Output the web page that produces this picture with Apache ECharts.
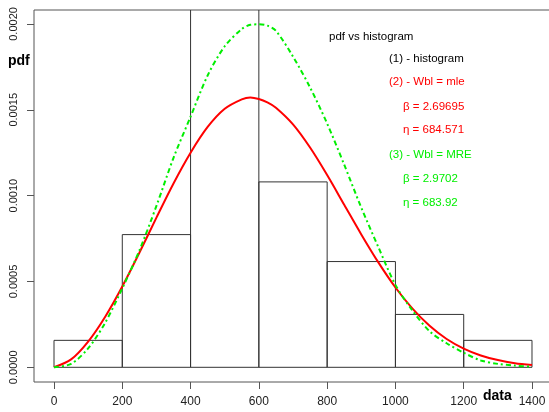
<!DOCTYPE html>
<html>
<head>
<meta charset="utf-8">
<script src="https://cdn.jsdelivr.net/npm/echarts@6/dist/echarts.min.js"></script>
<style>
html,body{margin:0;padding:0;background:#fff;}
#chart{width:549px;height:412px;}
</style>
</head>
<body>
<div id="chart"></div>
<script>
// ---- data ----
var binEdges = [0, 200, 400, 600, 800, 1000, 1200, 1400];
var binDensity = [0.000157, 0.000773, 0.0025, 0.00108, 0.000616, 0.000308, 0.000157];

var curveX = [0,50,100,150,200,250,300,350,400,450,500,550,575,600,625,650,700,750,800,850,900,950,1000,1050,1100,1150,1200,1250,1300,1350,1400];
var pdfMle = [0,0.000046,0.00015,0.000295,0.000471,0.000667,0.000872,0.001071,0.00125,0.0014,0.001506,0.001561,0.001572,0.001563,0.001543,0.001512,0.001415,0.00128,0.00112,0.000947,0.000774,0.000611,0.000465,0.000342,0.000242,0.000165,0.000109,0.000069,0.000042,0.000024,0.000014];
var pdfMre = [0,0.00002,0.00011,0.00026,0.00046,0.00068,0.00094,0.00122,0.00146,0.0017,0.00187,0.00197,0.001995,0.001998,0.00199,0.00196,0.00181,0.00163,0.00142,0.00118,0.00093,0.0007,0.00048,0.00033,0.00021,0.00014,0.000085,0.00004,0.00002,0.00001,0.000003];

var xTicks = [0, 200, 400, 600, 800, 1000, 1200, 1400];
var yTicks = [0, 0.0005, 0.001, 0.0015, 0.002];

var legendTitle = 'pdf vs histogram';
var legendLines = [
  {text: '(1) - histogram', color: '#000000'},
  {text: '(2) - Wbl = mle', color: '#ff0000'},
  {text: '\u03b2 = 2.69695', color: '#ff0000'},
  {text: '\u03b7 = 684.571', color: '#ff0000'},
  {text: '(3) - Wbl = MRE', color: '#00ee00'},
  {text: '\u03b2 = 2.9702', color: '#00ee00'},
  {text: '\u03b7 = 683.92', color: '#00ee00'}
];
var xLabel = 'data';
var yLabel = 'pdf';

// ---- build ----
var histData = [];
for (var i = 0; i < binDensity.length; i++) histData.push([binEdges[i], binEdges[i+1], binDensity[i]]);
function pairs(xs, ys){ var o=[]; for (var i=0;i<xs.length;i++) o.push([xs[i], ys[i]]); return o; }

var FONT = '"Liberation Sans", Arial, sans-serif';
var legY = [59.5, 82.5, 107.5, 131, 155.5, 180, 203.5];
var graphics = [
  {type:'text', left: 329, top: 30.5, style:{text: legendTitle, fill:'#000', font: '11.5px ' + FONT}},
  {type:'text', left: 8, top: 54, style:{text: yLabel, fill:'#000', font: 'bold 14px ' + FONT}},
  {type:'text', left: 483, top: 389, style:{text: xLabel, fill:'#000', font: 'bold 14px ' + FONT}}
];
legendLines.forEach(function(l, i){
  var indent = (i === 0 || i === 1 || i === 4) ? 389 : 403;
  graphics.push({type:'text', left: indent, top: legY[i] - 7, style:{text: l.text, fill: l.color, font: '11.5px ' + FONT}});
});

var chart = echarts.init(document.getElementById('chart'), null, {renderer:'canvas'});
chart.setOption({
  animation: false,
  backgroundColor: '#fff',
  grid: {left: 34, top: 10, width: 518, height: 372, outerBoundsMode: 'none', containLabel: false,
    show: true, borderColor: '#555', borderWidth: 1, backgroundColor: 'transparent'},
  xAxis: {
    type: 'value', min: -58.6, max: 1458.6,
    axisLine: {show: false, onZero: false},
    splitLine: {show: false},
    axisTick: {show: true, length: 7, customValues: xTicks, lineStyle: {color: '#555'}},
    axisLabel: {customValues: xTicks, margin: 14, color: '#222', fontSize: 12, fontFamily: FONT,
      formatter: function(v){ return String(Math.round(v)); }}
  },
  yAxis: {
    type: 'value', min: -0.0000856, max: 0.0020813,
    axisLine: {show: false, onZero: false},
    splitLine: {show: false},
    axisTick: {show: true, length: 7, customValues: yTicks, lineStyle: {color: '#555'}},
    axisLabel: {customValues: yTicks, rotate: 90, margin: 15, color: '#222', fontSize: 11, fontFamily: FONT,
      formatter: function(v){ return v.toFixed(4); }}
  },
  series: [
    {
      type: 'custom', clip: true, data: histData,
      renderItem: function(params, api){
        var p0 = api.coord([api.value(0), 0]);
        var p1 = api.coord([api.value(1), api.value(2)]);
        return {type:'rect', shape:{x: p0[0], y: p1[1], width: p1[0]-p0[0], height: p0[1]-p1[1]},
          style:{fill: 'none', stroke: '#333', lineWidth: 1}};
      },
      encode: {x: [0,1], y: 2}
    },
    {
      type: 'line', data: pairs(curveX, pdfMle), showSymbol: false, smooth: 0.3,
      lineStyle: {color: '#ff0000', width: 2}
    },
    {
      type: 'line', data: pairs(curveX, pdfMre), showSymbol: false, smooth: 0.3,
      lineStyle: {color: '#00ee00', width: 2, type: [5,3,2,3]}
    }
  ],
  graphic: graphics
});
</script>
</body>
</html>
